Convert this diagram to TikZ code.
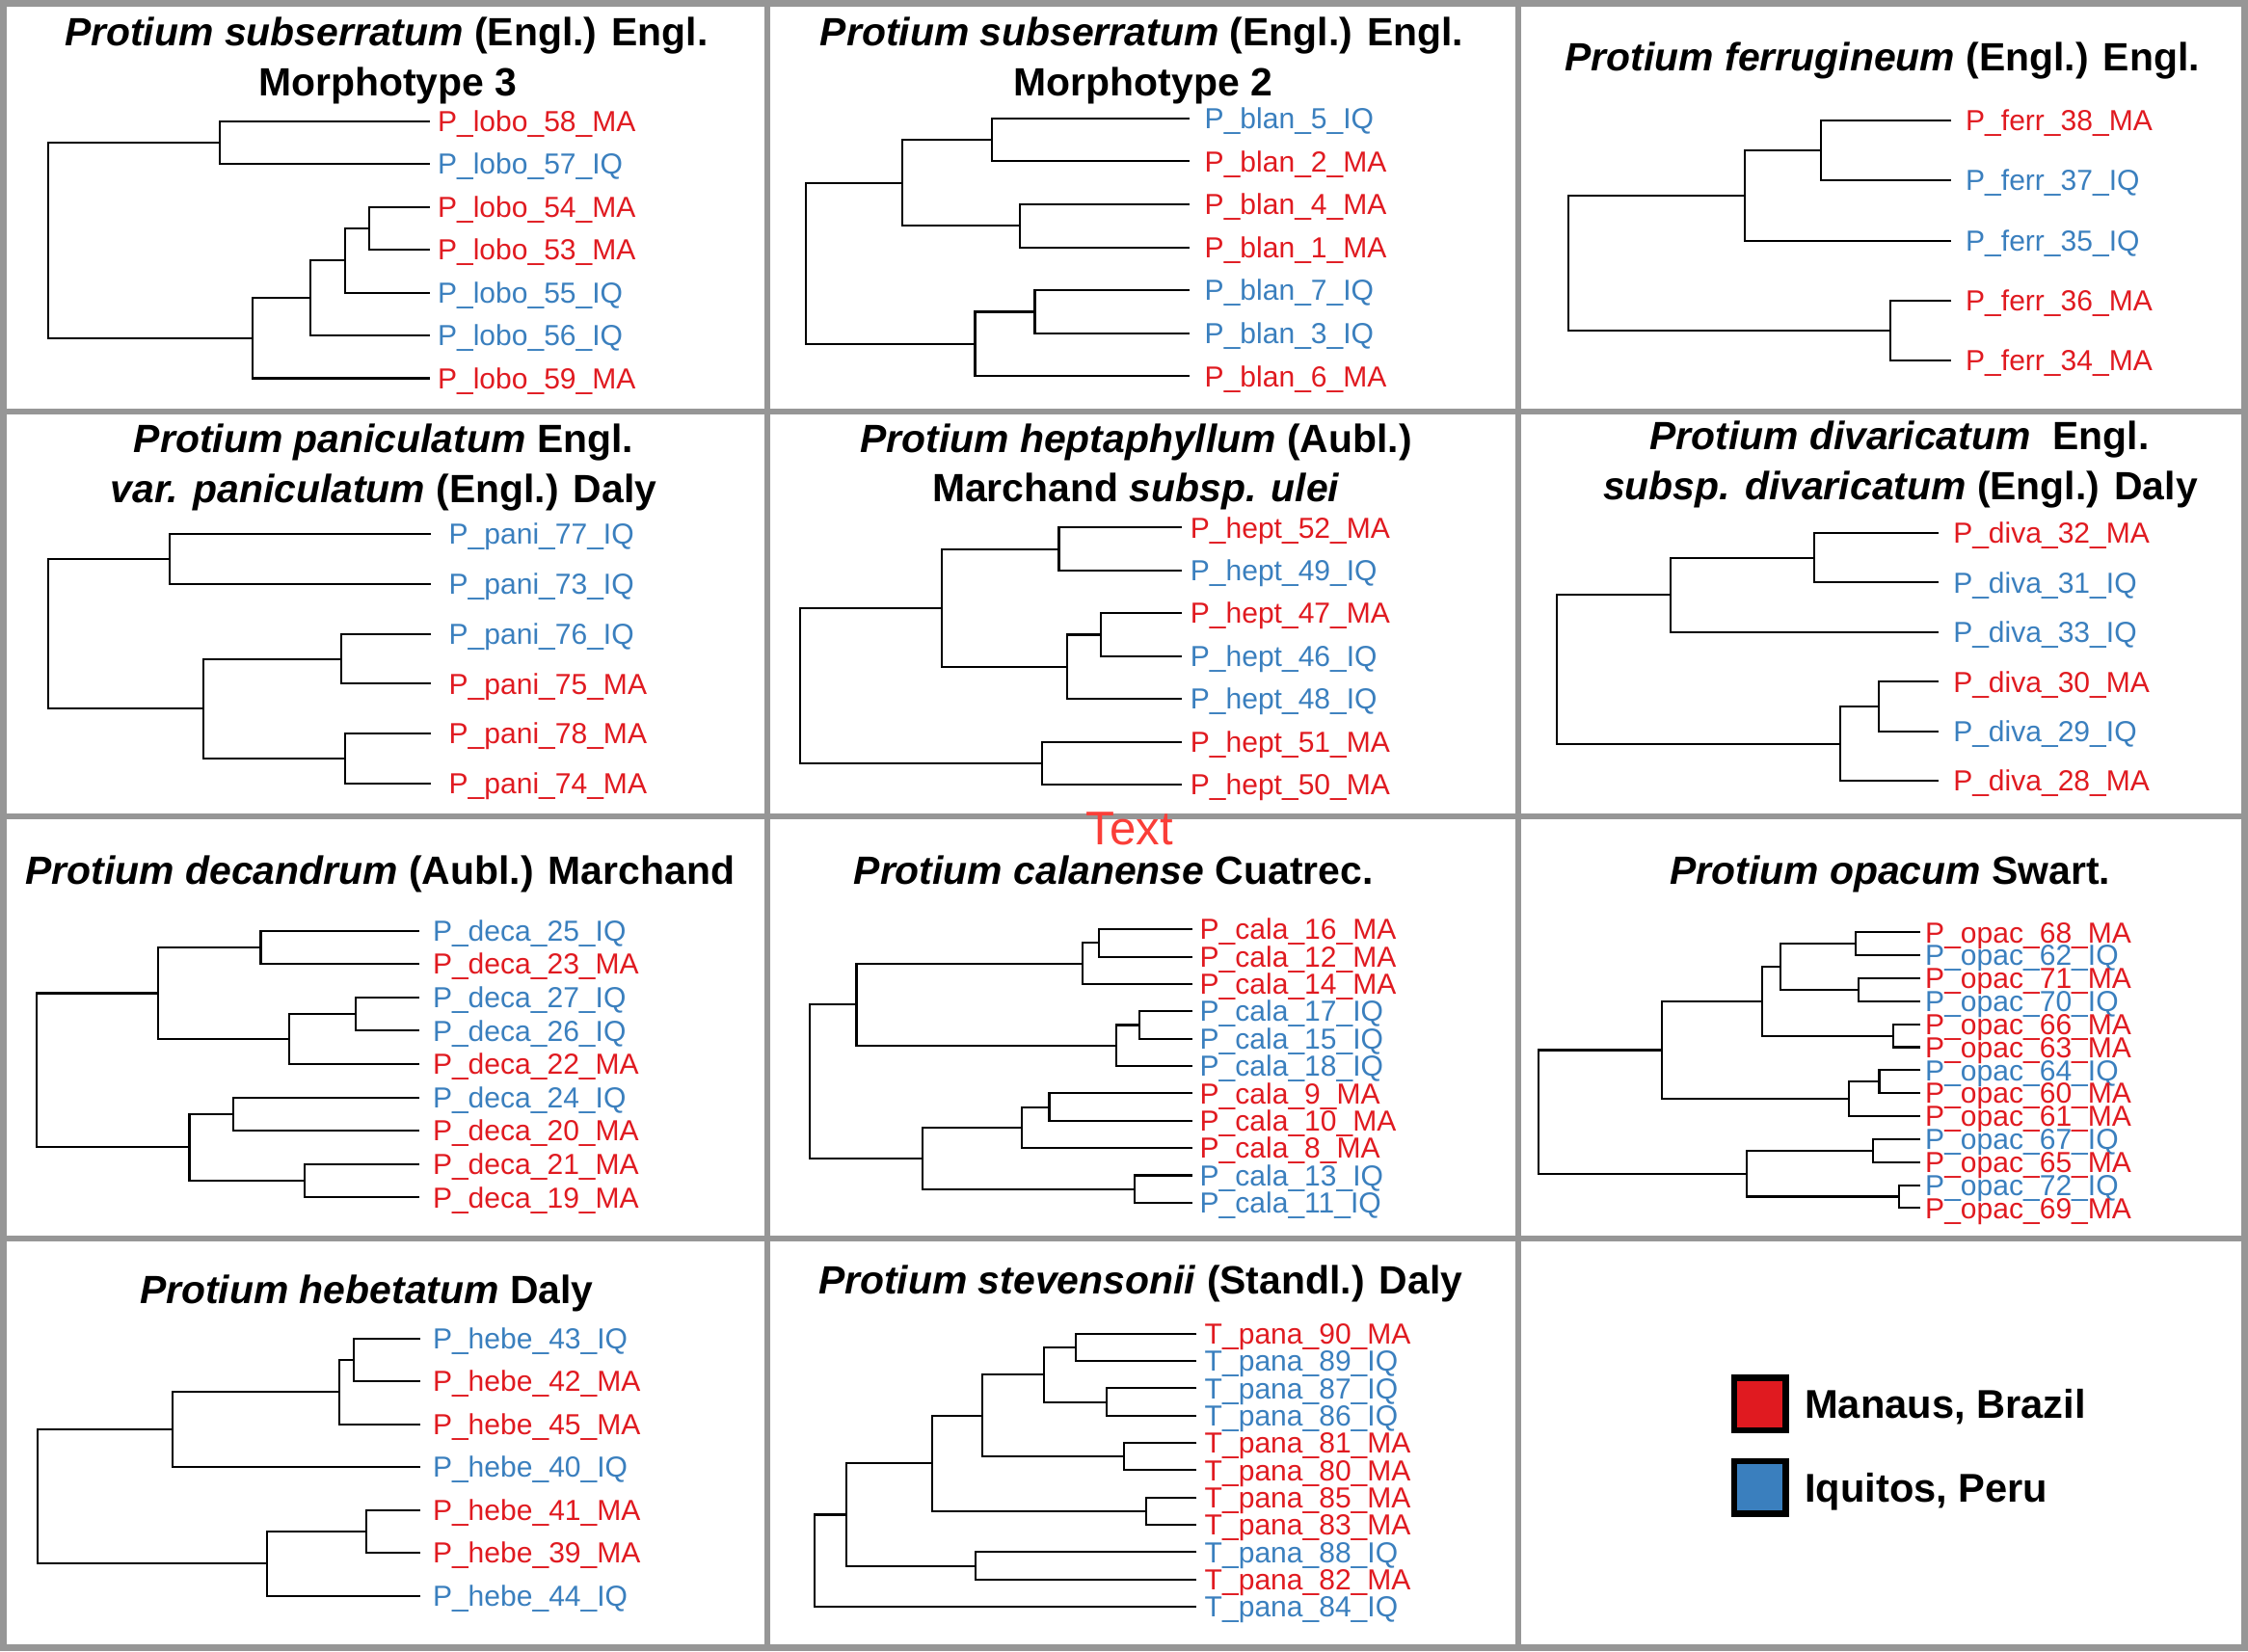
\documentclass[tikz,border=0pt]{standalone}
\usepackage{fontspec}
\setmainfont{Liberation Sans}
\usetikzlibrary{calc,positioning}

\definecolor{MA}{RGB}{224,26,32}
\definecolor{IQ}{RGB}{58,127,190}
\definecolor{rulegray}{RGB}{150,150,150}
\definecolor{textred}{RGB}{250,62,56}

\newcommand\titlefont{\fontsize{27.5}{33}\selectfont\bfseries}
\newcommand\tipfont{\fontsize{20.2}{24}\selectfont}

% row of tips: label prefix, first y, spacing, list of sample/site
\newcommand\tips[4]{%
  \foreach \n/\s [count=\i from 0] in {#4} {
    \node[tiplabel, text=\s] (s\n) at (\tipx, {#2+#3*\i}) {#1\_\n\_\s};
  }
}
% inner node: name, x, upper child, lower child
\newcommand\clade[4]{%
  \path ($(#3)!0.5!(#4)$) coordinate (mid);
  \coordinate (#1) at (#2,0 |- mid);
  \draw[branch] (#3) -| (#1) |- (#4);
}

\begin{document}
\begin{tikzpicture}[x=1pt,y=-1pt,
  branch/.style={line width=1.4pt},
  tiplabel/.style={anchor=west, font=\tipfont, inner xsep=\tipgap, inner ysep=0pt,
    text height=14.4pt, text depth=0pt},
  paneltitle/.style={anchor=base, font=\titlefont, inner sep=0pt},
  panelrule/.style={draw=rulegray, line width=4pt},
  swatch/.style={draw=black, line width=4.3pt, minimum width=36pt, minimum height=36.7pt, inner sep=0pt},
  legendtext/.style={font=\fontsize{28}{34}\selectfont\bfseries, inner sep=0pt, text height=20pt, text depth=0pt}]

\useasboundingbox (0,0) rectangle (1568,1152);

% panel frame
\draw[draw=rulegray, line width=5pt] (2.5,2.5) rectangle (1565.5,1149.5);
\foreach \x in {535.5,1059} { \draw[panelrule] (\x,0) -- (\x,1152); }
\foreach \y in {287,569.5,864} { \draw[panelrule] (0,\y) -- (1568,\y); }

% P. subserratum morphotype 3
\node[paneltitle] (loboT1) at (269.5,32) {\textit{Protium subserratum} (Engl.) Engl.};
\node[paneltitle] (loboT2) at (270.4,67.2) {Morphotype 3};
\def\tipx{299.8}\def\tipgap{5.3pt}
\tips{P\_lobo}{84.5}{29.9}{58/MA,57/IQ,54/MA,53/MA,55/IQ,56/IQ,59/MA}
\clade{loboE}{257.5}{s54}{s53}
\clade{loboD}{240.5}{loboE}{s55}
\clade{loboC}{216.8}{loboD}{s56}
\clade{loboB}{176.2}{loboC}{s59}
\clade{loboA}{153.5}{s58}{s57}
\clade{loboR}{33.8}{loboA}{loboB}

% P. subserratum morphotype 2
\node[paneltitle] (blanT1) at (796.5,32) {\textit{Protium subserratum} (Engl.) Engl.};
\node[paneltitle] (blanT2) at (797.4,67.2) {Morphotype 2};
\def\tipx{829.6}\def\tipgap{10.5pt}
\tips{P\_blan}{82.5}{30}{5/IQ,2/MA,4/MA,1/MA,7/IQ,3/IQ,6/MA}
\clade{blanB}{691.8}{s5}{s2}
\clade{blanC}{711.1}{s4}{s1}
\clade{blanA}{629.2}{blanB}{blanC}
\clade{blanE}{721.8}{s7}{s3}
\clade{blanD}{680.1}{blanE}{s6}
\clade{blanR}{562.3}{blanA}{blanD}

% P. ferrugineum
\node[paneltitle] (ferrT1) at (1313,49.3) {\textit{Protium ferrugineum} (Engl.) Engl.};
\def\tipx{1361.1}\def\tipgap{9.8pt}
\tips{P\_ferr}{84}{41.9}{38/MA,37/IQ,35/IQ,36/MA,34/MA}
\clade{ferrB}{1270.4}{s38}{s37}
\clade{ferrA}{1217}{ferrB}{s35}
\clade{ferrC}{1318.7}{s36}{s34}
\clade{ferrR}{1094}{ferrA}{ferrC}

% P. paniculatum
\node[paneltitle] (paniT1) at (267.6,316) {\textit{Protium paniculatum} Engl.};
\node[paneltitle] (paniT2) at (267.6,350.8) {\textit{var. paniculatum} (Engl.) Daly};
\def\tipx{300.8}\def\tipgap{12.1pt}
\tips{P\_pani}{372.6}{34.8}{77/IQ,73/IQ,76/IQ,75/MA,78/MA,74/MA}
\clade{paniA}{118.5}{s77}{s73}
\clade{paniC}{237.8}{s76}{s75}
\clade{paniD}{240.5}{s78}{s74}
\clade{paniB}{141.6}{paniC}{paniD}
\clade{paniR}{33.8}{paniA}{paniB}

% P. heptaphyllum
\node[paneltitle] (heptT1) at (792.4,316) {\textit{Protium heptaphyllum} (Aubl.)};
\node[paneltitle] (heptT2) at (792.4,349.7) {Marchand \textit{subsp. ulei}};
\def\tipx{824.6}\def\tipgap{5.5pt}
\tips{P\_hept}{368}{29.9}{52/MA,49/IQ,47/MA,46/IQ,48/IQ,51/MA,50/MA}
\clade{heptB}{738.6}{s52}{s49}
\clade{heptD}{767.7}{s47}{s46}
\clade{heptC}{744.6}{heptD}{s48}
\clade{heptA}{656.7}{heptB}{heptC}
\clade{heptE}{726.9}{s51}{s50}
\clade{heptR}{558}{heptA}{heptE}

% P. divaricatum
\node[paneltitle] (divaT1) at (1324.8,313.8) {\textit{Protium divaricatum}\ \ Engl.};
\node[paneltitle] (divaT2) at (1325.6,348.5) {\textit{subsp. divaricatum} (Engl.) Daly};
\def\tipx{1352.3}\def\tipgap{9.9pt}
\tips{P\_diva}{371.8}{34.6}{32/MA,31/IQ,33/IQ,30/MA,29/IQ,28/MA}
\clade{divaB}{1265.2}{s32}{s31}
\clade{divaA}{1165.5}{divaB}{s33}
\clade{divaD}{1310.3}{s30}{s29}
\clade{divaC}{1283.3}{divaD}{s28}
\clade{divaR}{1085.9}{divaA}{divaC}

% P. decandrum
\node[paneltitle] (decaT1) at (265.1,617) {\textit{Protium decandrum} (Aubl.) Marchand};
\def\tipx{292.3}\def\tipgap{9.4pt}
\tips{P\_deca}{649.3}{23.25}{25/IQ,23/MA,27/IQ,26/IQ,22/MA,24/IQ,20/MA,21/MA,19/MA}
\clade{decaB}{181.9}{s25}{s23}
\clade{decaD}{247.9}{s27}{s26}
\clade{decaC}{201.5}{decaD}{s22}
\clade{decaA}{110.1}{decaB}{decaC}
\clade{decaF}{162.9}{s24}{s20}
\clade{decaG}{212.7}{s21}{s19}
\clade{decaE}{132.1}{decaF}{decaG}
\clade{decaR}{25.4}{decaA}{decaE}

% P. calanense
\node[anchor=base, text=textred, font=\fontsize{33}{40}\selectfont, inner sep=0pt] (stray) at (788,589.5) {Text};
\node[paneltitle] (calaT1) at (776.7,617) {\textit{Protium calanense} Cuatrec.};
\def\tipx{831.6}\def\tipgap{5.1pt}
\tips{P\_cala}{648.3}{19.07}{16/MA,12/MA,14/MA,17/IQ,15/IQ,18/IQ,9/MA,10/MA,8/MA,13/IQ,11/IQ}
\clade{calaC}{766.7}{s16}{s12}
\clade{calaB}{755.3}{calaC}{s14}
\clade{calaE}{794.8}{s17}{s15}
\clade{calaD}{778.7}{calaE}{s18}
\clade{calaA}{597.4}{calaB}{calaD}
\clade{calaH}{731.9}{s9}{s10}
\clade{calaG}{712.8}{calaH}{s8}
\clade{calaI}{791.1}{s13}{s11}
\clade{calaF}{643.3}{calaG}{calaI}
\clade{calaR}{564.7}{calaA}{calaF}

% P. opacum
\node[paneltitle] (opacT1) at (1318.3,617) {\textit{Protium opacum} Swart.};
\def\tipx{1339.4}\def\tipgap{3.3pt}
\tips{P\_opac}{650.4}{16.03}{68/MA,62/IQ,71/MA,70/IQ,66/MA,63/MA,64/IQ,60/MA,61/MA,67/IQ,65/MA,72/IQ,69/MA}
\clade{opacD}{1294.1}{s68}{s62}
\clade{opacE}{1296.6}{s71}{s70}
\clade{opacC}{1241.6}{opacD}{opacE}
\clade{opacF}{1320.6}{s66}{s63}
\clade{opacB}{1229.3}{opacC}{opacF}
\clade{opacH}{1310.8}{s64}{s60}
\clade{opacG}{1289.8}{opacH}{s61}
\clade{opacA}{1159}{opacB}{opacG}
\clade{opacJ}{1306.4}{s67}{s65}
\clade{opacK}{1324.8}{s72}{s69}
\clade{opacI}{1218.6}{opacJ}{opacK}
\clade{opacR}{1072.9}{opacA}{opacI}

% P. hebetatum
\node[paneltitle] (hebeT1) at (255.7,909.1) {\textit{Protium hebetatum} Daly};
\def\tipx{293}\def\tipgap{8.7pt}
\tips{P\_hebe}{933.8}{29.9}{43/IQ,42/MA,45/MA,40/IQ,41/MA,39/MA,44/IQ}
\clade{hebeC}{246.6}{s43}{s42}
\clade{hebeB}{236.4}{hebeC}{s45}
\clade{hebeA}{120.2}{hebeB}{s40}
\clade{hebeE}{255.7}{s41}{s39}
\clade{hebeD}{186.3}{hebeE}{s44}
\clade{hebeR}{26.1}{hebeA}{hebeD}

% P. stevensonii
\node[paneltitle] (panaT1) at (795.5,902.4) {\textit{Protium stevensonii} (Standl.) Daly};
\def\tipx{834.6}\def\tipgap{5.5pt}
\tips{T\_pana}{930.4}{19.05}{90/MA,89/IQ,87/IQ,86/IQ,81/MA,80/MA,85/MA,83/MA,88/IQ,82/MA,84/IQ}
\clade{panaE}{750.3}{s90}{s89}
\clade{panaF}{772}{s87}{s86}
\clade{panaD}{727.9}{panaE}{panaF}
\clade{panaG}{783.8}{s81}{s80}
\clade{panaC}{685.1}{panaD}{panaG}
\clade{panaH}{799.4}{s85}{s83}
\clade{panaB}{650}{panaC}{panaH}
\clade{panaI}{680.7}{s88}{s82}
\clade{panaA}{590.4}{panaB}{panaI}
\clade{panaR}{568}{panaA}{s84}

% legend
\node[swatch, fill=MA] (maBox) at (1227.5,979.4) {};
\node[legendtext, right=11pt of maBox] (maText) {Manaus, Brazil};
\node[swatch, fill=IQ, below=17.3pt of maBox] (iqBox) {};
\node[legendtext, right=11pt of iqBox] (iqText) {Iquitos, Peru};
\end{tikzpicture}
\end{document}
